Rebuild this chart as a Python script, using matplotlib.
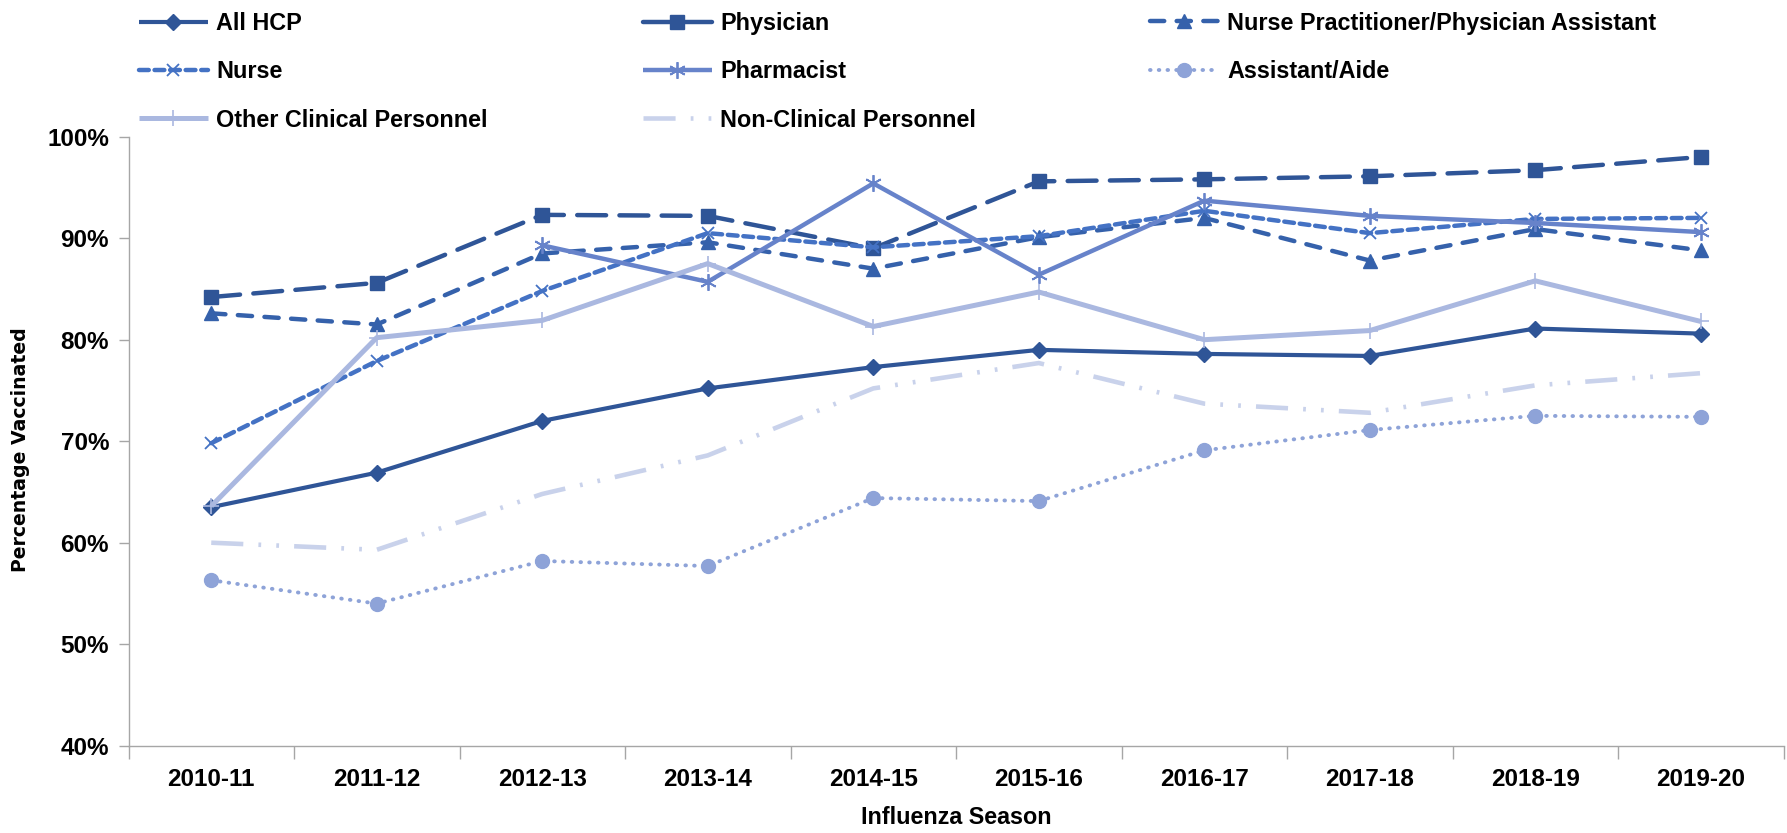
import matplotlib
matplotlib.use("Agg")
import matplotlib.pyplot as plt
from matplotlib.patches import Circle
import numpy as np

seasons = ['2010-11', '2011-12', '2012-13', '2013-14', '2014-15',
           '2015-16', '2016-17', '2017-18', '2018-19', '2019-20']
all_hcp = [63.5, 66.9, 72.0, 75.2, 77.3, 79.0, 78.6, 78.4, 81.1, 80.6]
physician = [84.2, 85.6, 92.3, 92.2, 89.0, 95.6, 95.8, 96.1, 96.7, 98.0]
np_pa = [82.6, 81.5, 88.5, 89.6, 87.0, 90.1, 92.0, 87.8, 90.9, 88.8]
nurse = [69.8, 77.9, 84.8, 90.5, 89.1, 90.2, 92.7, 90.5, 91.9, 92.0]
pharmacist = [np.nan, np.nan, 89.3, 85.7, 95.4, 86.4, 93.7, 92.2, 91.5, 90.6]
aide = [56.3, 54.0, 58.2, 57.7, 64.4, 64.1, 69.1, 71.1, 72.5, 72.4]
other_clin = [63.6, 80.2, 81.9, 87.5, 81.3, 84.7, 80.0, 80.9, 85.8, 81.8]
non_clin = [60.0, 59.3, 64.8, 68.6, 75.2, 77.7, 73.7, 72.8, 75.5, 76.7]

yticks = [40, 50, 60, 70, 80, 90, 100]

W, H = 1787, 833
fig = plt.figure(figsize=(W / 100, H / 100), dpi=100)
ax = fig.add_axes([128.5 / W, 1 - 745.7 / H, 1655 / W, 609 / H])

x = np.arange(len(seasons))
tick_font = dict(family='Liberation Sans', weight='bold', size=17.5)

series = [
    ('All HCP', all_hcp, dict(color='#2F5597', lw=3.0, ls='-', marker='D', ms=8)),
    ('Physician', physician, dict(color='#2F5597', lw=3.2, ls=(0, (6.5, 3.0)), marker='s', ms=10.5)),
    ('Nurse Practitioner/Physician Assistant', np_pa, dict(color='#3561AB', lw=3.2, ls=(0, (3.2, 2.8)), marker='^', ms=10.5)),
    ('Nurse', nurse, dict(color='#4472C4', lw=3.2, ls=(0, (2.2, 1.3)), marker='x', ms=9, mew=1.3)),
    ('Pharmacist', pharmacist, dict(color='#6783CA', lw=3.2, ls='-', marker=(6, 2, 0), ms=12, mew=1.3)),
    ('Assistant/Aide', aide, dict(color='#8EA3D8', lw=2.8, ls=(0, (0.15, 2.1)), marker='o', ms=10)),
    ('Other Clinical Personnel', other_clin, dict(color='#AAB8E0', lw=3.6, ls='-', marker='+', ms=11, mew=1.2)),
    ('Non-Clinical Personnel', non_clin, dict(color='#C9D2EB', lw=3.3, ls=(0, (7.0, 3.3, 0.6, 3.3, 0.6, 3.3)), marker=None)),
]

round_dash = ('Assistant/Aide', 'Nurse', 'Nurse Practitioner/Physician Assistant', 'Physician')
handles = {}
for name, vals, st in series:
    ln, = ax.plot(x, vals, label=name, color=st['color'], lw=st['lw'], ls=st['ls'],
                  marker=st.get('marker'), ms=st.get('ms', 8), mew=st.get('mew', 1.0),
                  mfc=st['color'], mec=st['color'],
                  dash_capstyle='round' if name in round_dash else 'butt',
                  solid_joinstyle='round', solid_capstyle='butt')
    handles[name] = ln

ax.set_xlim(-0.5, len(seasons) - 0.5)
ax.set_ylim(40, 100)
ax.set_yticks(yticks)
ax.set_yticklabels([f'{v}%' for v in yticks], **tick_font)
ax.set_xticks(x)
ax.set_xticklabels(seasons, **tick_font)
ax.set_xticks(np.arange(-0.5, len(seasons), 1.0), minor=True)
ax.tick_params(axis='x', which='major', length=0, pad=16)
ax.tick_params(axis='x', which='minor', length=9, width=1.0, color='#A6A6A6', direction='out')
ax.tick_params(axis='y', which='major', length=7, width=1.0, color='#A6A6A6', direction='out', pad=7)

for s in ('top', 'right'):
    ax.spines[s].set_visible(False)
for s in ('left', 'bottom'):
    ax.spines[s].set_color('#A6A6A6')
    ax.spines[s].set_linewidth(1.0)

ax.set_xlabel('Influenza Season', family='Liberation Sans', weight='bold', size=16.8)
ax.xaxis.set_label_coords(0.5, -0.1187)
ax.xaxis.label.set_va('center')
ax.set_ylabel('Percentage Vaccinated', family='DejaVu Sans', weight='bold', size=13.6)
ax.yaxis.label.set_va('center')
ax.yaxis.set_label_coords(-0.0655, 0.4856)

columns = [
    ['All HCP', 'Nurse', 'Other Clinical Personnel'],
    ['Physician', 'Pharmacist', 'Non-Clinical Personnel'],
    ['Nurse Practitioner/Physician Assistant', 'Assistant/Aide'],
]
col_x = [142, 646, 1153]
for cx, names in zip(col_x, columns):
    leg = fig.legend([handles[n] for n in names], names, loc='upper left',
                     bbox_to_anchor=((cx - 8) / W, 1 - 7 / H), frameon=False,
                     prop=dict(family='Liberation Sans', weight='bold', size=16.8),
                     handlelength=2.95, handletextpad=0.375, labelspacing=1.09,
                     borderaxespad=0, borderpad=0.2)

fig.patches.append(Circle((672 / W, 1 + 12 / H), 15 / W, transform=fig.transFigure,
                          facecolor='#9AAAA3', edgecolor='none', figure=fig))

fig.savefig('out.png', dpi=100)
